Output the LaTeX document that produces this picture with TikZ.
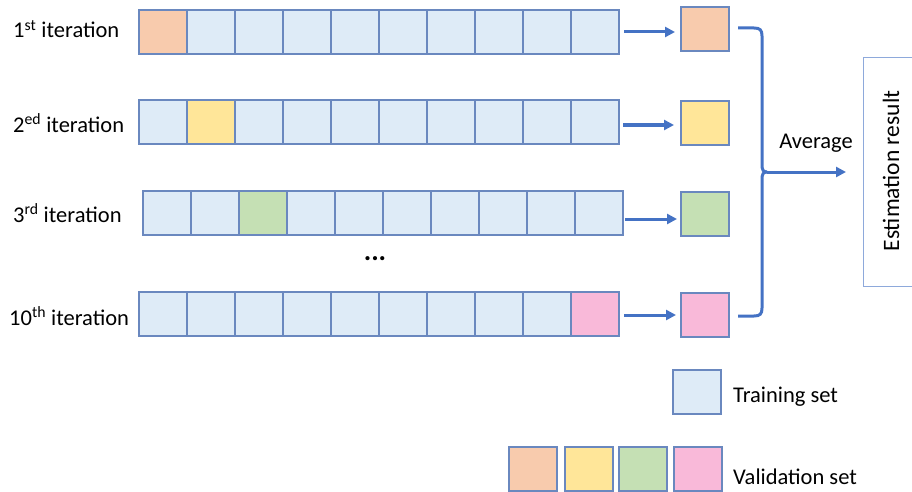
\documentclass[tikz,border=0pt]{standalone}
\usepackage{fontspec}
\setmainfont{Carlito}
\usetikzlibrary{arrows.meta}
\definecolor{trfill}{HTML}{DEEBF7}
\definecolor{cellborder}{HTML}{6A88BF}
\definecolor{arrblue}{HTML}{4472C4}
\definecolor{vorange}{HTML}{F8CBAD}
\definecolor{vyellow}{HTML}{FFE699}
\definecolor{vgreen}{HTML}{C5E0B4}
\definecolor{vpink}{HTML}{F9B9D9}
\definecolor{resborder}{HTML}{8EA9DB}
\tikzset{
  cell/.style={draw=cellborder, line width=1.3pt, fill=trfill, minimum width=48pt, minimum height=44pt, inner sep=0pt, outer sep=0pt},
  lbl/.style={anchor=west, inner sep=0pt, font=\fontsize{22.5}{26}\selectfont},
  arr/.style={draw=arrblue, line width=3pt, -{Triangle[length=10pt,width=10pt]}},
  brace/.style={draw=arrblue, line width=3pt},
}
\begin{document}
\begin{tikzpicture}[x=1pt,y=-1pt]
\useasboundingbox (0,0) rectangle (912,492);
% rows
\foreach \r/\x/\y in {1/139/32, 2/139/122, 3/143/213, 4/139/314}{
  \foreach \c in {1,...,10}{
    \node[cell] (r\r c\c) at ({\x+24+48*(\c-1)},\y) {};
  }
}
\node[cell, fill=vorange] at (r1c1) {};
\node[cell, fill=vyellow] at (r2c2) {};
\node[cell, fill=vgreen] at (r3c3) {};
\node[cell, fill=vpink] at (r4c10) {};
% labels
\node[lbl] (l1) at (13,29) {1\textsuperscript{st} iteration};
\node[lbl] (l2) at (13,123) {2\textsuperscript{ed} iteration};
\node[lbl] (l3) at (13,213) {3\textsuperscript{rd} iteration};
\node[lbl] (l4) at (9,316) {10\textsuperscript{th} iteration};
\node[inner sep=0pt, font=\fontsize{28}{28}\selectfont\bfseries] (dots) at (375,259) {...};
% validation squares
\node[cell, fill=vorange] (v1) at (705,29) {};
\node[cell, fill=vyellow] (v2) at (705,123) {};
\node[cell, fill=vgreen] (v3) at (705,214) {};
\node[cell, fill=vpink] (v4) at (705,315) {};
\draw[arr, shorten <=5pt, shorten >=6pt] (r1c10.east |- 0,32) -- (v1.west |- 0,32);
\draw[arr, shorten <=4pt, shorten >=7pt] (r2c10.east |- 0,125) -- (v2.west |- 0,125);
\draw[arr, shorten <=2pt, shorten >=4pt] (r3c10.east |- 0,219) -- (v3.west |- 0,219);
\draw[arr, shorten <=5pt, shorten >=5pt] (r4c10.east |- 0,315) -- (v4.west |- 0,315);
% brace
\coordinate (j) at (767,172);
\coordinate (t) at (738,28);
\coordinate (b) at (738,316);
\draw[brace] (t) -- (754,28) .. controls (760,28) and (762,30) .. (762,36) -- (762,164) .. controls (762,170) and (763,172) .. (j);
\draw[brace] (b) -- (754,316) .. controls (760,316) and (762,314) .. (762,308) -- (762,180) .. controls (762,174) and (763,172) .. (j);
\node[cell, draw=resborder, fill=white, line width=0.9pt, minimum width=60pt, minimum height=229pt, anchor=north west] (res) at (863,57) {};
\draw[arr, shorten >=17pt] (j) -- (res.west |- j);
\node[inner sep=0pt, font=\fontsize{22.5}{26}\selectfont] (avg) at (816,143) {Average};
\node[inner sep=0pt, rotate=90, font=\fontsize{23.5}{26}\selectfont] (est) at (891,171) {Estimation result};
% legend
\node[cell] (tr) at (697,392) {};
\node[lbl] (trl) at (733,397) {Training set};
\node[cell, fill=vorange] (lg1) at (533,469) {};
\node[cell, fill=vyellow] (lg2) at (589,469) {};
\node[cell, fill=vgreen] (lg3) at (643,469) {};
\node[cell, fill=vpink] (lg4) at (698,469) {};
\node[lbl] (val) at (733,477) {Validation set};
\end{tikzpicture}
\end{document}
